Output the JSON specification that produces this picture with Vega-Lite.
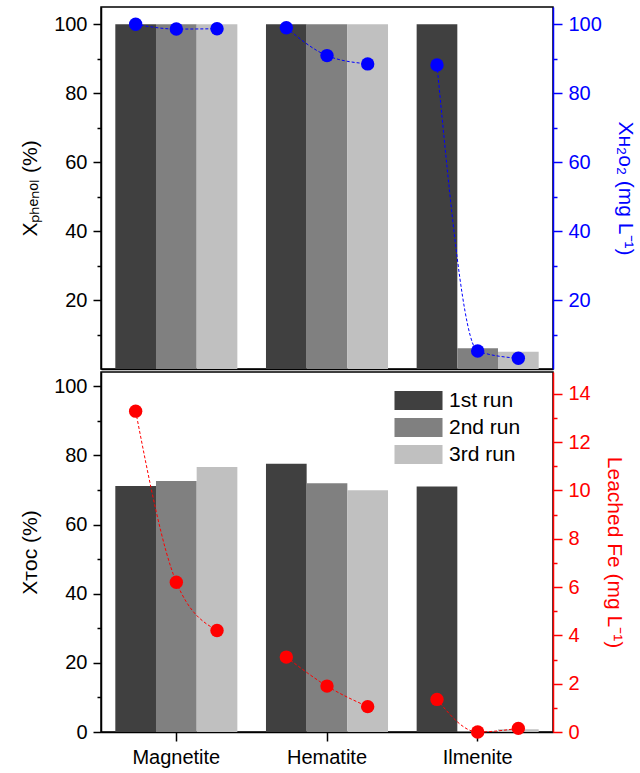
{
  "$schema": "https://vega.github.io/schema/vega-lite/v6.json",
  "background": "white",
  "padding": {"left": 18, "top": 6, "right": 4, "bottom": 0},
  "datasets": {
    "runs": [
      {"material": "Magnetite", "run": "1st run", "phenol": 100, "h2o2": 100, "toc": 71.1, "fe": 13.28},
      {"material": "Magnetite", "run": "2nd run", "phenol": 100, "h2o2": 98.6, "toc": 72.6, "fe": 6.2},
      {"material": "Magnetite", "run": "3rd run", "phenol": 100, "h2o2": 98.7, "toc": 76.6, "fe": 4.2},
      {"material": "Hematite", "run": "1st run", "phenol": 100, "h2o2": 99.0, "toc": 77.6, "fe": 3.1},
      {"material": "Hematite", "run": "2nd run", "phenol": 100, "h2o2": 90.9, "toc": 71.9, "fe": 1.9},
      {"material": "Hematite", "run": "3rd run", "phenol": 100, "h2o2": 88.5, "toc": 69.9, "fe": 1.05},
      {"material": "Ilmenite", "run": "1st run", "phenol": 100, "h2o2": 88.2, "toc": 71.0, "fe": 1.35},
      {"material": "Ilmenite", "run": "2nd run", "phenol": 6.0, "h2o2": 5.2, "toc": 0.3, "fe": 0.0},
      {"material": "Ilmenite", "run": "3rd run", "phenol": 5.0, "h2o2": 3.1, "toc": 0.8, "fe": 0.15}
    ]
  },
  "data": {"name": "runs"},
  "spacing": 0,
  "vconcat": [
    {
      "width": 452,
      "height": 362,
      "layer": [
        {
          "mark": {"type": "bar"},
          "encoding": {
            "x": {"field": "material", "type": "nominal", "sort": ["Magnetite", "Hematite", "Ilmenite"],
                  "scale": {"paddingInner": 0.19, "paddingOuter": 0.095},
                  "axis": {"orient": "bottom", "labels": false, "title": null, "tickSize": -5}},
            "xOffset": {"field": "run", "type": "nominal", "sort": ["1st run", "2nd run", "3rd run"],
                        "scale": {"paddingInner": 0, "paddingOuter": 0}},
            "y": {"field": "phenol", "type": "quantitative", "scale": {"domain": [0, 105], "nice": false},
                  "axis": {"orient": "left", "values": [20, 40, 60, 80, 100], "title": "Xₚₕₑₙₒₗ (%)"}},
            "color": {"field": "run", "type": "nominal", "sort": ["1st run", "2nd run", "3rd run"],
                      "scale": {"domain": ["1st run", "2nd run", "3rd run"], "range": ["#404040", "#808080", "#c0c0c0"]},
                      "legend": null}
          }
        },
        {
          "mark": {"type": "bar", "opacity": 0},
          "encoding": {
            "x": {"field": "material", "type": "nominal", "sort": ["Magnetite", "Hematite", "Ilmenite"]},
            "xOffset": {"field": "run", "type": "nominal", "sort": ["1st run", "2nd run", "3rd run"]},
            "y": {"field": "phenol", "type": "quantitative", "scale": {"domain": [0, 105], "nice": false},
                  "axis": {"orient": "left", "values": [10, 30, 50, 70, 90], "labels": false, "domain": false, "tickSize": 4, "title": null}}
          }
        },
        {
          "mark": {"type": "line", "color": "#0000ff", "strokeDash": [3, 2], "strokeWidth": 1, "interpolate": "monotone"},
          "encoding": {
            "x": {"field": "material", "type": "nominal", "sort": ["Magnetite", "Hematite", "Ilmenite"]},
            "xOffset": {"field": "run", "type": "nominal", "sort": ["1st run", "2nd run", "3rd run"]},
            "y": {"field": "h2o2", "type": "quantitative", "scale": {"domain": [0, 105], "nice": false},
                  "axis": {"orient": "right", "values": [20, 40, 60, 80, 100], "title": "Xʜ₂ᴏ₂ (mg L⁻¹)", "tickSize": 9,
                           "domainColor": "#0000ff", "tickColor": "#0000ff", "labelColor": "#0000ff", "titleColor": "#0000ff"}},
            "detail": {"field": "material"}
          }
        },
        {
          "mark": {"type": "circle", "color": "#0000ff", "size": 180, "opacity": 1},
          "encoding": {
            "x": {"field": "material", "type": "nominal", "sort": ["Magnetite", "Hematite", "Ilmenite"]},
            "xOffset": {"field": "run", "type": "nominal", "sort": ["1st run", "2nd run", "3rd run"]},
            "y": {"field": "h2o2", "type": "quantitative", "scale": {"domain": [0, 105], "nice": false},
                  "axis": {"orient": "right", "values": [10, 30, 50, 70, 90], "labels": false, "domain": false, "tickSize": 4, "title": null, "tickColor": "#0000ff"}}
          }
        }
      ],
      "resolve": {"scale": {"y": "independent"}}
    },
    {
      "width": 452,
      "height": 360,
      "layer": [
        {
          "mark": {"type": "bar"},
          "encoding": {
            "x": {"field": "material", "type": "nominal", "sort": ["Magnetite", "Hematite", "Ilmenite"],
                  "scale": {"paddingInner": 0.19, "paddingOuter": 0.095},
                  "axis": {"orient": "bottom", "title": null, "labelAngle": 0, "tickSize": 9}},
            "xOffset": {"field": "run", "type": "nominal", "sort": ["1st run", "2nd run", "3rd run"],
                        "scale": {"paddingInner": 0, "paddingOuter": 0}},
            "y": {"field": "toc", "type": "quantitative", "scale": {"domain": [0, 104.1], "nice": false},
                  "axis": {"orient": "left", "values": [0, 20, 40, 60, 80, 100], "title": "Xᴛᴏᴄ (%)"}},
            "color": {"field": "run", "type": "nominal", "sort": ["1st run", "2nd run", "3rd run"],
                      "scale": {"domain": ["1st run", "2nd run", "3rd run"], "range": ["#404040", "#808080", "#c0c0c0"]},
                      "legend": {"orient": "none", "legendX": 307, "legendY": 18, "title": null,
                                 "symbolType": "M-2.5,-1H2.5V1H-2.5Z", "symbolSize": 369, "symbolStrokeWidth": 0,
                                 "symbolOpacity": 1, "labelFontSize": 21, "labelOffset": 20, "rowPadding": 5,
                                 "labelColor": "black", "labelFont": "Liberation Sans"}}
          }
        },
        {
          "mark": {"type": "bar", "opacity": 0},
          "encoding": {
            "x": {"field": "material", "type": "nominal", "sort": ["Magnetite", "Hematite", "Ilmenite"]},
            "xOffset": {"field": "run", "type": "nominal", "sort": ["1st run", "2nd run", "3rd run"]},
            "y": {"field": "toc", "type": "quantitative", "scale": {"domain": [0, 104.1], "nice": false},
                  "axis": {"orient": "left", "values": [10, 30, 50, 70, 90], "labels": false, "domain": false, "tickSize": 4, "title": null}}
          }
        },
        {
          "mark": {"type": "line", "color": "#ff0000", "strokeDash": [3, 2], "strokeWidth": 1, "interpolate": "monotone"},
          "encoding": {
            "x": {"field": "material", "type": "nominal", "sort": ["Magnetite", "Hematite", "Ilmenite"]},
            "xOffset": {"field": "run", "type": "nominal", "sort": ["1st run", "2nd run", "3rd run"]},
            "y": {"field": "fe", "type": "quantitative", "scale": {"domain": [0, 14.9], "nice": false},
                  "axis": {"orient": "right", "values": [0, 2, 4, 6, 8, 10, 12, 14], "title": "Leached Fe (mg L⁻¹)", "tickSize": 9,
                           "domainColor": "#ff0000", "tickColor": "#ff0000", "labelColor": "#ff0000", "titleColor": "#ff0000"}},
            "detail": {"field": "material"}
          }
        },
        {
          "mark": {"type": "circle", "color": "#ff0000", "size": 180, "opacity": 1},
          "encoding": {
            "x": {"field": "material", "type": "nominal", "sort": ["Magnetite", "Hematite", "Ilmenite"]},
            "xOffset": {"field": "run", "type": "nominal", "sort": ["1st run", "2nd run", "3rd run"]},
            "y": {"field": "fe", "type": "quantitative", "scale": {"domain": [0, 14.9], "nice": false},
                  "axis": {"orient": "right", "values": [1, 3, 5, 7, 9, 11, 13], "labels": false, "domain": false, "tickSize": 4, "title": null, "tickColor": "#ff0000"}}
          }
        }
      ],
      "resolve": {"scale": {"y": "independent"}}
    }
  ],
  "resolve": {"scale": {"color": "independent"}, "legend": {"color": "independent"}},
  "config": {
    "font": "Liberation Sans",
    "view": {"stroke": "black", "strokeWidth": 1.5},
    "axis": {
      "labelFont": "Liberation Sans", "titleFont": "Liberation Sans",
      "labelFontSize": 20, "titleFontSize": 21, "titleFontWeight": "normal",
      "labelColor": "black", "titleColor": "black", "domainColor": "black", "tickColor": "black",
      "domainWidth": 1.5, "tickWidth": 1.5, "grid": false, "tickSize": 8,
      "labelPadding": 6, "titlePadding": 13
    }
  }
}
